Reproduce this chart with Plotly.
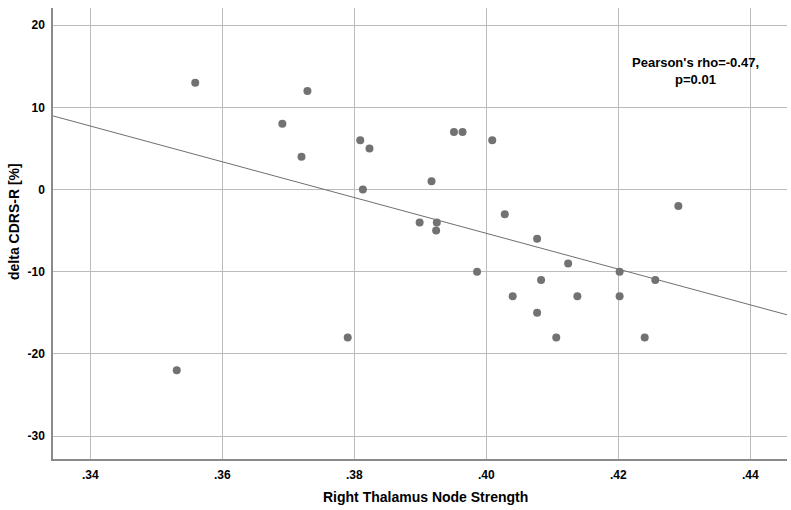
import numpy as np
import plotly.graph_objects as go

# Data
node_strength = [0.3559, 0.3691, 0.3720, 0.3729, 0.3809, 0.3823, 0.3813, 0.3951,
                 0.3964, 0.4009, 0.3917, 0.4028, 0.3899, 0.3925, 0.3924, 0.4077,
                 0.4291, 0.3531, 0.3790, 0.3986, 0.4083, 0.4040, 0.4077, 0.4124,
                 0.4202, 0.4256, 0.4138, 0.4202, 0.4106, 0.4240]
delta_cdrs = [13, 8, 4, 12, 6, 5, 0, 7,
              7, 6, 1, -3, -4, -4, -5, -6,
              -2, -22, -18, -10, -11, -13, -15, -9,
              -10, -11, -13, -13, -18, -18]

x_tick_vals = [0.34, 0.36, 0.38, 0.40, 0.42, 0.44]
x_tick_text = [".34", ".36", ".38", ".40", ".42", ".44"]
y_tick_vals = [20, 10, 0, -10, -20, -30]
y_tick_text = ["20", "10", "0", "-10", "-20", "-30"]

x_range = [0.33435, 0.44556]
y_range = [-32.8, 22.1]

x_title = "Right Thalamus Node Strength"
y_title = "delta CDRS-R [%]"
annotation_text = "Pearson's rho=-0.47,<br>p=0.01"

# Least-squares fit line across full x range
slope, intercept = np.polyfit(node_strength, delta_cdrs, 1)
fit_x = np.array(x_range)
fit_y = slope * fit_x + intercept

font_family = "Liberation Sans, Arial, sans-serif"

W, H = 791, 510
L, R, T, B = 53, 4, 8, 51
pw, ph = W - L - R, H - T - B


def px_to_paper(px, py):
    return (px - L) / pw, (H - B - py) / ph


fig = go.Figure()
fig.add_trace(go.Scatter(
    x=fit_x, y=fit_y, mode="lines",
    line=dict(color="#6f6f6f", width=1),
    hoverinfo="skip", showlegend=False,
))
fig.add_trace(go.Scatter(
    x=node_strength, y=delta_cdrs, mode="markers",
    marker=dict(color="#727272", size=8, line=dict(width=0)),
    showlegend=False,
))

ax, ay = px_to_paper(695, 71.5)
fig.add_annotation(
    x=ax, y=ay, xref="paper", yref="paper",
    text="<b>" + annotation_text + "</b>",
    showarrow=False, align="center", xanchor="center", yanchor="middle",
    font=dict(family=font_family, size=13, color="#000000"),
)
tx, ty = px_to_paper(425.5, 497)
fig.add_annotation(
    x=tx, y=ty, xref="paper", yref="paper",
    text="<b>" + x_title + "</b>", showarrow=False,
    xanchor="center", yanchor="middle",
    font=dict(family=font_family, size=14, color="#000000"),
)
yx, yy = px_to_paper(14, 222)
fig.add_annotation(
    x=yx, y=yy, xref="paper", yref="paper",
    text="<b>" + y_title + "</b>", showarrow=False, textangle=-90,
    xanchor="center", yanchor="middle",
    font=dict(family=font_family, size=14, color="#000000"),
)

fig.update_layout(
    width=W, height=H,
    margin=dict(l=L, r=R, t=T, b=B),
    paper_bgcolor="white", plot_bgcolor="white",
    font=dict(family=font_family, color="#000000"),
)
fig.update_xaxes(
    range=x_range, tickvals=x_tick_vals, ticktext=x_tick_text,
    showgrid=True, gridcolor="#bbbbbb", gridwidth=1,
    zeroline=False, showline=True, linecolor="#8a8a8a", linewidth=1.5,
    ticks="", ticklen=0, automargin=False, ticklabelstandoff=4,
    tickfont=dict(family=font_family, size=12, color="#000000", weight="bold"),
)
fig.update_yaxes(
    range=y_range, tickvals=y_tick_vals, ticktext=y_tick_text,
    showgrid=True, gridcolor="#bbbbbb", gridwidth=1,
    zeroline=False, showline=True, linecolor="#8a8a8a", linewidth=1.5,
    ticks="", ticklen=0, automargin=False, ticklabelstandoff=4,
    tickfont=dict(family=font_family, size=12, color="#000000", weight="bold"),
)

fig.write_html(
    "out.html",
    config={"displayModeBar": False},
    post_script="document.body.style.margin='0';document.body.style.padding='0';"
                "document.body.style.overflow='hidden';",
)
